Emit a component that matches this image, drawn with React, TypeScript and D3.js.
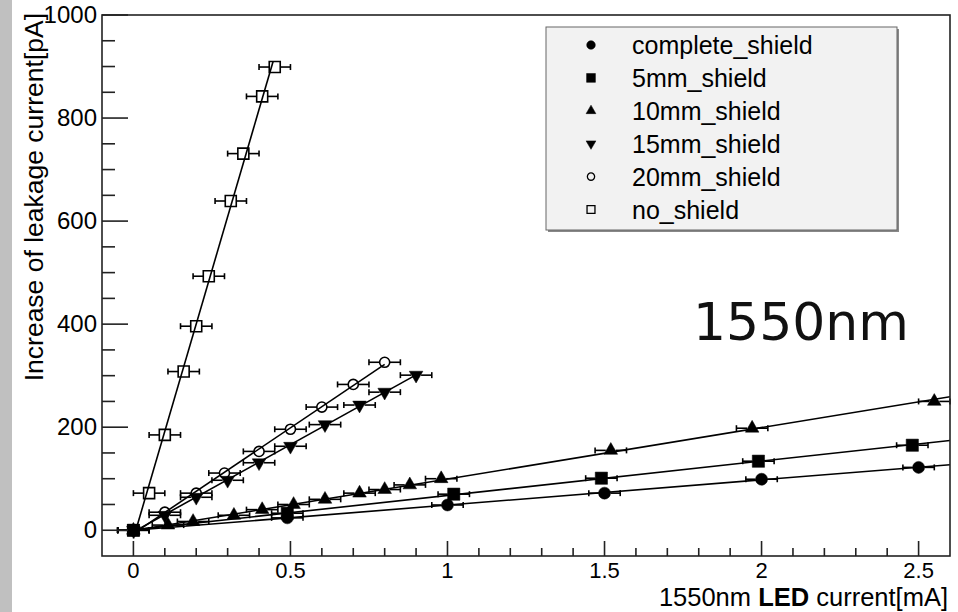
import React, { useEffect, useRef } from 'react';
import * as d3 from 'd3';

// LED current [mA] / increase of leakage current [pA]
const completeX = [0, 0.49, 1.0, 1.5, 2.0, 2.5];
const completeY = [0, 24, 49, 72, 99, 122];
const mm5X = [0, 0.49, 1.02, 1.49, 1.99, 2.48];
const mm5Y = [0, 33, 70, 101, 134, 165];
const mm10X = [0, 0.11, 0.19, 0.32, 0.41, 0.51, 0.61, 0.72, 0.8, 0.88, 0.98, 1.52, 1.97, 2.55];
const mm10Y = [0, 10, 17, 29, 40, 50, 60, 72, 79, 88, 100, 155, 198, 250];
const mm15X = [0, 0.1, 0.2, 0.3, 0.4, 0.5, 0.61, 0.72, 0.8, 0.9];
const mm15Y = [0, 29, 64, 97, 131, 163, 205, 243, 268, 301];
const mm20X = [0, 0.1, 0.2, 0.29, 0.4, 0.5, 0.6, 0.7, 0.8];
const mm20Y = [0, 35, 72, 111, 153, 196, 239, 283, 326];
const noX = [0, 0.05, 0.1, 0.16, 0.2, 0.24, 0.31, 0.35, 0.41, 0.45];
const noY = [0, 72, 185, 308, 396, 493, 639, 731, 842, 899];

const names = ['complete_shield', '5mm_shield', '10mm_shield', '15mm_shield', '20mm_shield', 'no_shield'];
const markers = ['circle', 'square', 'up', 'down', 'ocircle', 'osquare'];
const seriesX = [completeX, mm5X, mm10X, mm15X, mm20X, noX];
const seriesY = [completeY, mm5Y, mm10Y, mm15Y, mm20Y, noY];
const fitMax = [2.6, 2.6, 2.6, 0.9, 0.8, 0.445];
const xErr = 0.05;
const yErr = [3, 3, 4, 4, 4, 5];
const drawOrder = [5, 4, 3, 2, 0, 1];

const xTickLabels = [0, 0.5, 1, 1.5, 2, 2.5];
const yTickLabels = [0, 200, 400, 600, 800, 1000];

const W = 958, H = 612;
const L = 102, R = 950, T = 15, B = 556;
const FONT = '"Liberation Sans", Arial, Helvetica, sans-serif';

function markerPath(kind: string, k: number) {
    if (kind === 'circle') return d3.symbol(d3.symbolCircle, 113 * k * k)();
    if (kind === 'ocircle') return d3.symbol(d3.symbolCircle, 80 * k * k)();
    if (kind === 'square') return d3.symbol(d3.symbolSquare, 150 * k * k)();
    if (kind === 'osquare') return d3.symbol(d3.symbolSquare, 121 * k * k)();
    return d3.symbol(d3.symbolTriangle, 80 * k * k)();
}

function halfSize(kind: string) {
    if (kind === 'circle') return 6;
    if (kind === 'square') return 6;
    if (kind === 'ocircle') return 5;
    if (kind === 'osquare') return 5.5;
    return 5;
}

const Chart: React.FC = () => {
    const svgRef = useRef<SVGSVGElement>(null);

    useEffect(() => {
        if (!svgRef.current) return;
        const svg = d3.select(svgRef.current);
        svg.selectAll('*').remove();

        const x = d3.scaleLinear().domain([-0.1, 2.6]).range([L, R]);
        const y = d3.scaleLinear().domain([-50, 1000]).range([B, T]);

        svg.append('rect').attr('width', W).attr('height', H).attr('fill', '#fff');
        svg.append('rect').attr('width', 12).attr('height', H).attr('fill', '#c0c0c0');

        const plot = svg.append('g');
        plot.append('clipPath').attr('id', 'clip')
            .append('rect').attr('x', L).attr('y', T).attr('width', R - L).attr('height', B - T);

        // fit lines
        const lines = plot.append('g').attr('clip-path', 'url(#clip)');
        seriesX.forEach((xs, i) => {
            const ys = seriesY[i];
            const mx = d3.mean(xs)!, my = d3.mean(ys)!;
            const sxy = d3.sum(xs, (v, j) => (v - mx) * (ys[j] - my));
            const sxx = d3.sum(xs, v => (v - mx) * (v - mx));
            const b = sxy / sxx, a = my - b * mx;
            lines.append('line')
                .attr('x1', x(0)).attr('y1', y(a))
                .attr('x2', x(fitMax[i])).attr('y2', y(a + b * fitMax[i]))
                .attr('stroke', '#000').attr('stroke-width', 1.6);
        });

        // error bars and markers
        drawOrder.forEach(i => {
            const xs = seriesX[i], ys = seriesY[i];
            const kind = markers[i];
            const hs = halfSize(kind);
            const g = plot.append('g').attr('stroke', '#000').attr('stroke-width', 1.6);
            xs.forEach((xv, j) => {
                const px = x(xv), py = y(ys[j]);
                const xl = x(xv - xErr), xr = x(xv + xErr);
                g.append('line').attr('x1', xl).attr('x2', px - hs).attr('y1', py).attr('y2', py);
                g.append('line').attr('x1', px + hs).attr('x2', xr).attr('y1', py).attr('y2', py);
                g.append('line').attr('x1', xl).attr('x2', xl).attr('y1', py - 3).attr('y2', py + 3);
                g.append('line').attr('x1', xr).attr('x2', xr).attr('y1', py - 3).attr('y2', py + 3);
                const yt = y(ys[j] + yErr[i]), yb = y(ys[j] - yErr[i]);
                if (yt < py - hs) g.append('line').attr('x1', px).attr('x2', px).attr('y1', yt).attr('y2', py - hs);
                if (yb > py + hs) g.append('line').attr('x1', px).attr('x2', px).attr('y1', py + hs).attr('y2', yb);
            });
            const open = kind === 'ocircle' || kind === 'osquare';
            plot.append('g').selectAll('path')
                .data(xs)
                .join('path')
                .attr('d', markerPath(kind, 1))
                .attr('transform', (d, j) => `translate(${x(d)},${y(ys[j])})${kind === 'down' ? ' rotate(180)' : ''}`)
                .attr('fill', open ? 'none' : '#000')
                .attr('stroke', '#000')
                .attr('stroke-width', open ? 1.6 : 0.5);
        });

        // frame
        svg.append('rect').attr('x', L).attr('y', T).attr('width', R - L).attr('height', B - T)
            .attr('fill', 'none').attr('stroke', '#222').attr('stroke-width', 1.6);

        // x ticks
        const xMinor = d3.range(0, 26).map(v => v / 10);
        svg.append('g').selectAll('line').data(xMinor).join('line')
            .attr('x1', d => x(d)).attr('x2', d => x(d))
            .attr('y1', B).attr('y2', d => (Math.round(d * 10) % 5 === 0 ? B - 15 : B - 8))
            .attr('stroke', '#222').attr('stroke-width', 1.6);
        svg.append('g').selectAll('text').data(xTickLabels).join('text')
            .attr('x', d => x(d)).attr('y', 578)
            .attr('text-anchor', 'middle')
            .attr('font-family', FONT).attr('font-size', 22)
            .text(d => String(d));

        // y ticks
        const yMinor = d3.range(0, 21).map(v => v * 50);
        svg.append('g').selectAll('line').data(yMinor).join('line')
            .attr('x1', L).attr('x2', d => (d % 200 === 0 ? L + 26 : L + 13))
            .attr('y1', d => y(d)).attr('y2', d => y(d))
            .attr('stroke', '#222').attr('stroke-width', 1.6);
        svg.append('g').selectAll('text').data(yTickLabels).join('text')
            .attr('x', 97).attr('y', d => y(d) + 8)
            .attr('text-anchor', 'end')
            .attr('font-family', FONT).attr('font-size', 24)
            .text(d => String(d));

        // axis titles
        const xt = svg.append('text')
            .attr('x', R - 2).attr('y', 606)
            .attr('text-anchor', 'end')
            .attr('font-family', FONT).attr('font-size', 25.5);
        xt.append('tspan').text('1550nm ');
        xt.append('tspan').attr('font-weight', 'bold').text('LED');
        xt.append('tspan').text(' current[mA]');

        svg.append('text')
            .attr('transform', 'translate(43,13) rotate(-90)')
            .attr('text-anchor', 'end')
            .attr('font-family', FONT).attr('font-size', 26.5)
            .text('Increase of leakage current[pA]');

        // legend
        const lg = svg.append('g');
        lg.append('rect').attr('x', 548).attr('y', 29).attr('width', 351).attr('height', 203).attr('fill', '#888');
        lg.append('rect').attr('x', 546).attr('y', 27).attr('width', 351).attr('height', 203)
            .attr('fill', '#f2f2f2').attr('stroke', '#666').attr('stroke-width', 1);
        names.forEach((n, i) => {
            const cy = 45 + i * 32.9;
            const kind = markers[i];
            const open = kind === 'ocircle' || kind === 'osquare';
            lg.append('path')
                .attr('d', markerPath(kind, 0.72))
                .attr('transform', `translate(591,${cy})${kind === 'down' ? ' rotate(180)' : ''}`)
                .attr('fill', open ? 'none' : '#000')
                .attr('stroke', '#000').attr('stroke-width', open ? 1.3 : 0.5);
            lg.append('text')
                .attr('x', 632).attr('y', cy + 9)
                .attr('font-family', FONT).attr('font-size', 25)
                .text(n);
        });

        // annotation
        svg.append('text')
            .attr('x', 693).attr('y', 340)
            .attr('font-family', '"DejaVu Sans", Verdana, sans-serif')
            .attr('font-size', 52).attr('fill', '#111')
            .text('1550nm');
    }, []);

    return <svg ref={svgRef} width={W} height={H} style={{ position: 'absolute', left: 0, top: 0 }} />;
};

const App: React.FC = () => <Chart />;

export default App;
